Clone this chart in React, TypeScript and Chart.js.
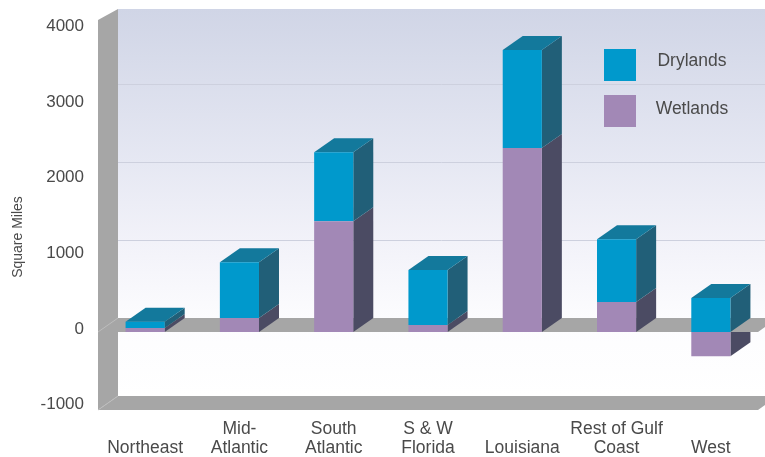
import React, { useEffect, useRef } from "react";
import { Chart, registerables } from "chart.js";

Chart.register(...registerables);

const regions: (string | string[])[] = [
  ["", "Northeast"],
  ["Mid-", "Atlantic"],
  ["South", "Atlantic"],
  ["S & W", "Florida"],
  ["", "Louisiana"],
  ["Rest of Gulf", "Coast"],
  ["", "West"],
];
const wetlands = [50, 180, 1420, 90, 2360, 385, -310];
const drylands = [80, 715, 885, 705, 1255, 805, 435];
const valueTicks = [-1000, 0, 1000, 2000, 3000, 4000];

const WIDTH = 765;
const HEIGHT = 457;
const FONT = '"Liberation Sans", Arial, sans-serif';
const TEXT = "#4a4a4a";
const DEPTH_X = 20;
const DEPTH_Y = 14;
const WALL_TOP_RISE = 11;
const BLUE = "#0099cc";
const PURPLE = "#a288b6";
const BLUE_SIDE = "#215f78";
const BLUE_TOP = "#13799c";
const PURPLE_SIDE = "#4b4b63";
const SLAB = "#a6a6a6";
const GRID = "#cdd0de";

type Pt = [number, number];

function fillPoly(ctx: CanvasRenderingContext2D, pts: Pt[], color: string) {
  ctx.beginPath();
  pts.forEach(([x, y], i) => (i ? ctx.lineTo(x, y) : ctx.moveTo(x, y)));
  ctx.closePath();
  ctx.fillStyle = color;
  ctx.fill();
}

// Back wall, slabs and the extruded faces of the bars, all placed from the scales.
const depthScene = {
  id: "depthScene",
  beforeDatasetsDraw(chart: any) {
    const { ctx, chartArea: area, scales } = chart;
    const y = scales.y;
    const zero = y.getPixelForValue(0);
    const floor = y.getPixelForValue(y.min);
    const left = area.left;
    const right = area.right;
    const wallTop = area.top - WALL_TOP_RISE;
    const backLeft = left + DEPTH_X;

    ctx.save();
    const wash = ctx.createLinearGradient(0, wallTop, 0, floor - DEPTH_Y);
    wash.addColorStop(0, "#d0d5e6");
    wash.addColorStop(0.4, "#e6e8f3");
    wash.addColorStop(0.6, "#f2f2f9");
    wash.addColorStop(0.8, "#fcfcfe");
    wash.addColorStop(1, "#ffffff");
    ctx.fillStyle = wash;
    ctx.fillRect(backLeft, wallTop, WIDTH - backLeft, floor - DEPTH_Y - wallTop);

    ctx.strokeStyle = GRID;
    ctx.lineWidth = 1;
    valueTicks.forEach((v) => {
      const gy = Math.round(y.getPixelForValue(v) - DEPTH_Y) + 0.5;
      if (v <= 0 || gy < wallTop) return;
      ctx.beginPath();
      ctx.moveTo(backLeft, gy);
      ctx.lineTo(WIDTH, gy);
      ctx.stroke();
    });

    const bars = (index: number) => chart.getDatasetMeta(index).data as any[];
    const side = (el: any, color: string) => {
      const edge = el.x + el.width / 2;
      const top = Math.min(el.y, el.base);
      const bottom = Math.max(el.y, el.base);
      fillPoly(
        ctx,
        [
          [edge, top],
          [edge + DEPTH_X, top - DEPTH_Y],
          [edge + DEPTH_X, bottom - DEPTH_Y],
          [edge, bottom],
        ],
        color,
      );
    };

    // Below-zero parts sit behind the zero slab.
    bars(0).forEach((el) => {
      if (el.y > el.base) side(el, PURPLE_SIDE);
    });

    const slab = (front: number) =>
      fillPoly(
        ctx,
        [
          [left, front],
          [backLeft, front - DEPTH_Y],
          [right + DEPTH_X, front - DEPTH_Y],
          [right, front],
        ],
        SLAB,
      );
    slab(floor);
    fillPoly(
      ctx,
      [
        [left, area.top],
        [backLeft, wallTop],
        [backLeft, floor - DEPTH_Y],
        [left, floor],
      ],
      SLAB,
    );
    slab(zero);

    ctx.strokeStyle = "#bdbdbd";
    [zero, floor].forEach((front) => {
      ctx.beginPath();
      ctx.moveTo(left, front);
      ctx.lineTo(backLeft, front - DEPTH_Y);
      ctx.stroke();
    });

    bars(0).forEach((el) => {
      if (el.y <= el.base) side(el, PURPLE_SIDE);
    });
    bars(1).forEach((el) => {
      side(el, BLUE_SIDE);
      const l = el.x - el.width / 2;
      const r = el.x + el.width / 2;
      fillPoly(
        ctx,
        [
          [l, el.y],
          [l + DEPTH_X, el.y - DEPTH_Y],
          [r + DEPTH_X, el.y - DEPTH_Y],
          [r, el.y],
        ],
        BLUE_TOP,
      );
    });
    ctx.restore();
  },
  afterDraw(chart: any) {
    const { ctx } = chart;
    ctx.save();
    ctx.fillStyle = TEXT;
    ctx.font = `14px ${FONT}`;
    ctx.textAlign = "center";
    ctx.textBaseline = "middle";
    ctx.translate(18, 237);
    ctx.rotate(-Math.PI / 2);
    ctx.fillText("Square Miles", 0, 0);
    ctx.restore();

    // Legend, newest series first.
    ctx.save();
    ctx.font = `17.5px ${FONT}`;
    ctx.textAlign = "center";
    ctx.textBaseline = "middle";
    const entries = [chart.data.datasets[1], chart.data.datasets[0]];
    entries.forEach((ds: any, i: number) => {
      const top = 49 + i * 46;
      ctx.fillStyle = ds.backgroundColor;
      ctx.fillRect(604, top, 32, 32);
      ctx.fillStyle = TEXT;
      ctx.fillText(ds.label, 692, top + 12 + i * 2);
    });
    ctx.restore();
  },
};

export default function App() {
  const ref = useRef<HTMLCanvasElement>(null);
  useEffect(() => {
    const chart = new Chart(ref.current!, {
      type: "bar",
      data: {
        labels: regions as any,
        datasets: [
          { label: "Wetlands", data: wetlands, backgroundColor: PURPLE, yAxisID: "y" },
          { label: "Drylands", data: drylands, backgroundColor: BLUE, yAxisID: "y" },
        ],
      },
      options: {
        responsive: false,
        animation: false,
        events: [],
        layout: { padding: { top: 20, right: 7, bottom: 0, left: 0 } },
        datasets: { bar: { categoryPercentage: 1, barPercentage: 0.415 } },
        plugins: { legend: { display: false }, tooltip: { enabled: false } },
        scales: {
          x: {
            stacked: true,
            grid: { display: false, drawTicks: false },
            border: { display: false },
            afterFit: (s: any) => {
              s.height = 47;
              s.paddingLeft = 0;
              s.paddingRight = 0;
            },
            ticks: {
              autoSkip: false,
              maxRotation: 0,
              padding: 10,
              color: TEXT,
              font: { family: FONT, size: 17.5, lineHeight: 1.086 },
            },
          },
          y: { stacked: true, display: false, min: -1000, max: 4000 },
          // Value labels run on a slightly tighter pitch than the front plane of the bars.
          labels: {
            position: "left",
            min: -1071,
            max: 4087,
            grid: { display: false, drawTicks: false },
            border: { display: false },
            afterFit: (s: any) => {
              s.width = 98;
              s.paddingTop = 0;
              s.paddingBottom = 0;
            },
            afterBuildTicks: (s: any) => {
              s.ticks = valueTicks.map((value) => ({ value }));
            },
            ticks: {
              padding: 14,
              color: TEXT,
              font: { family: FONT, size: 17 },
              callback: (v: any) => String(v),
            },
          },
        },
      } as any,
      plugins: [depthScene],
    });
    return () => chart.destroy();
  }, []);
  return (
    <canvas
      ref={ref}
      width={WIDTH}
      height={HEIGHT}
      style={{ position: "fixed", left: 0, top: 0, display: "block", background: "#fff" }}
    />
  );
}
